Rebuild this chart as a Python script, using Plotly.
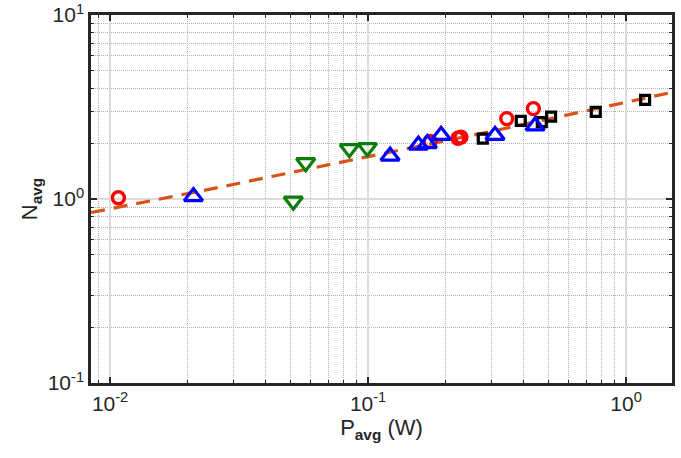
import plotly.graph_objects as go

# Data
red_x = [0.01077, 0.1739, 0.2230, 0.2290, 0.3448, 0.4372]
red_y = [1.015, 2.056, 2.14, 2.17, 2.735, 3.10]

blue_x = [0.02104, 0.1217, 0.1567, 0.1698, 0.1919, 0.3105, 0.4440]
blue_y = [1.03, 1.711, 1.964, 2.00, 2.218, 2.218, 2.494]

green_x = [0.0513, 0.0573, 0.0846, 0.0993]
green_y = [0.973, 1.575, 1.877, 1.901]

black_x = [0.2783, 0.3907, 0.4714, 0.5121, 0.763, 1.185]
black_y = [2.13, 2.655, 2.62, 2.805, 2.972, 3.455]

fit_x = [0.00844, 0.0267, 0.1, 0.3, 1.507]
fit_y = [0.844, 1.16, 1.70, 2.33, 3.80]

x_tickvals = [0.01, 0.1, 1]
x_ticktext = ["10<sup>-2</sup>", "10<sup>-1</sup>", "10<sup>0</sup>"]
y_tickvals = [0.1, 1, 10]
y_ticktext = ["10<sup>-1</sup>", "10<sup>0</sup>", "10<sup>1</sup>"]

FONT = "Liberation Sans, Arial, Helvetica, sans-serif"
AX = "#262626"

fig = go.Figure()
fig.add_trace(go.Scatter(x=fit_x, y=fit_y, mode="lines",
                         line=dict(color="#D95319", width=3.2, dash="14px,9px"),
                         showlegend=False))
fig.add_trace(go.Scatter(x=black_x, y=black_y, mode="markers",
                         marker=dict(symbol="square-open", size=9, color="#000000",
                                     line=dict(width=3.2, color="#000000")),
                         showlegend=False))
fig.add_trace(go.Scatter(x=red_x, y=red_y, mode="markers",
                         marker=dict(symbol="circle-open", size=12, color="#FF0000",
                                     line=dict(width=3.4, color="#FF0000")),
                         showlegend=False))
fig.add_trace(go.Scatter(x=green_x, y=green_y, mode="markers",
                         marker=dict(symbol="triangle-down-open", size=16, color="#0A7D0A",
                                     line=dict(width=3.2, color="#0A7D0A")),
                         showlegend=False))
fig.add_trace(go.Scatter(x=blue_x, y=blue_y, mode="markers",
                         marker=dict(symbol="triangle-up-open", size=16, color="#0000FF",
                                     line=dict(width=3.2, color="#0000FF")),
                         showlegend=False))

axis_common = dict(
    type="log", automargin=False,
    showline=True, linecolor=AX, linewidth=2.5, mirror="allticks",
    ticks="inside", ticklen=6, tickwidth=1.5, tickcolor=AX,
    showgrid=True, gridcolor="#dcdcdc", gridwidth=2,
    zeroline=False,
    tickfont=dict(family=FONT, size=21, color=AX),
    minor=dict(ticks="inside", ticklen=3, tickwidth=1, tickcolor=AX,
               dtick="D1", showgrid=True, gridcolor="#b4b4b4", gridwidth=1.3,
               griddash="1px,1px"),
)

fig.update_xaxes(**axis_common, range=[-2.074, 0.178],
                 tickvals=x_tickvals, ticktext=x_ticktext,
                 title=dict(text="P<sub><b>avg</b></sub> (W)",
                            font=dict(family=FONT, size=22, color=AX), standoff=4))
fig.update_yaxes(**axis_common, range=[-1, 1],
                 tickvals=y_tickvals, ticktext=y_ticktext,
                 title=dict(text="N<sub><b>avg</b></sub>",
                            font=dict(family=FONT, size=22, color=AX), standoff=4))

fig.update_layout(
    width=681, height=458,
    margin=dict(l=91, r=9, t=15, b=75),
    paper_bgcolor="white", plot_bgcolor="white",
    font=dict(family=FONT, color=AX),
)

# remove the default 8px body margin so the figure fills the window exactly
fig.write_html("out.html", config={"displayModeBar": False},
               post_script="document.body.style.margin='0px';")
